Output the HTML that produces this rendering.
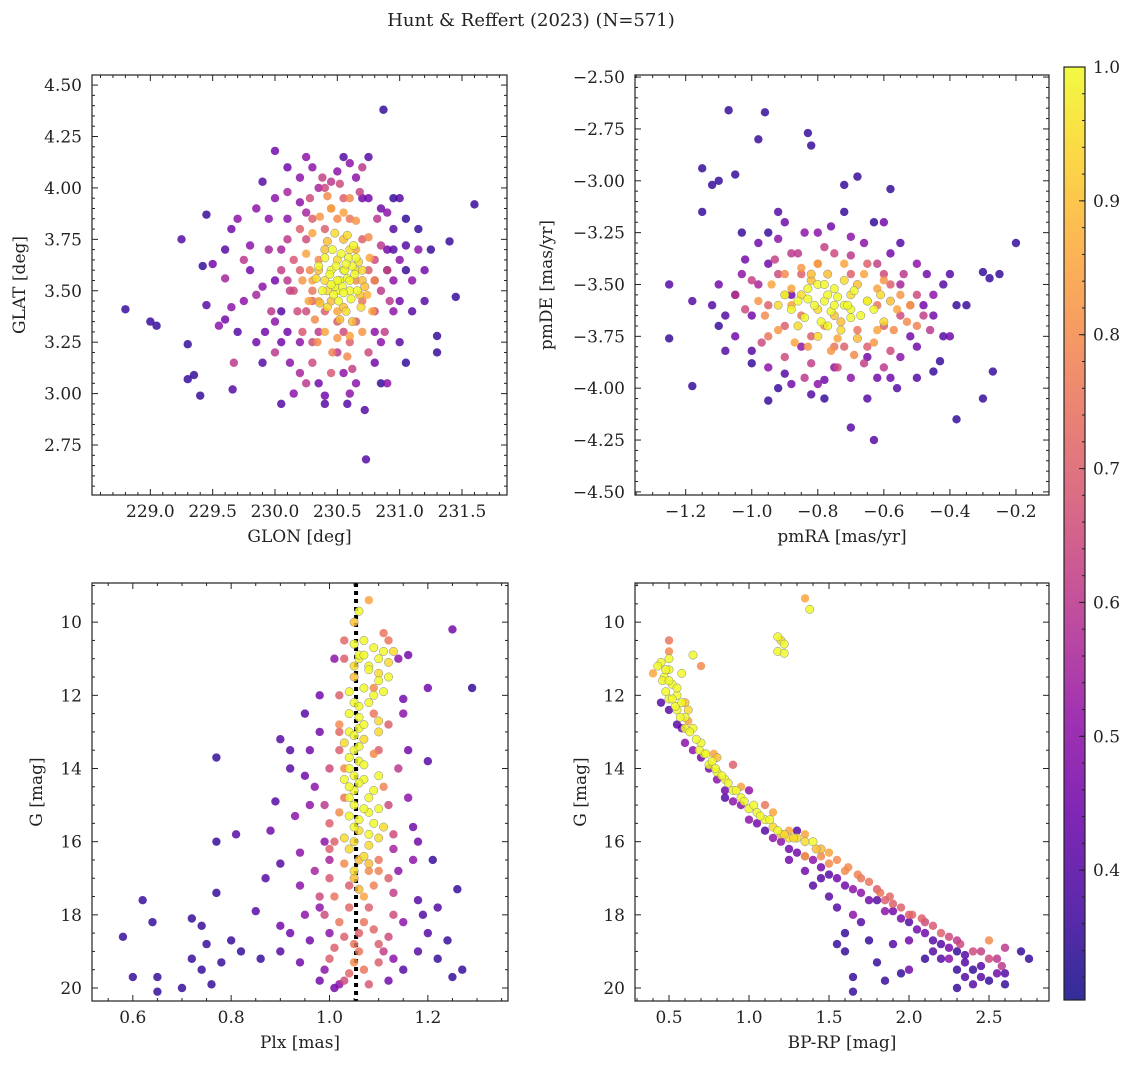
<!DOCTYPE html>
<html><head><meta charset="utf-8">
<style>
body{margin:0;background:#fff;}
svg text{font-family:"DejaVu Serif","Liberation Serif",serif;fill:#222;}
</style></head>
<body>
<svg id="fig" width="1136" height="1068" viewBox="0 0 1136 1068" xmlns="http://www.w3.org/2000/svg">
<text x="531" y="26" font-size="18" text-anchor="middle">Hunt &amp; Reffert (2023) (N=571)</text>
</svg>
<script>
// Panel 1: GLON vs GLAT
const glonVals=[228.8,229.0,229.05,229.25,229.3,229.35,229.3,229.4,229.42,229.45,229.45,229.5,229.55,229.6,229.6,229.65,229.65,229.67,229.66,229.7,229.75,229.8,229.85,229.9,229.92,229.95,229.97,230.0,230.0,230.05,230.05,230.1,230.1,230.15,230.2,230.2,230.2,230.25,230.3,230.35,230.35,230.4,230.45,230.5,230.55,230.55,230.6,230.65,230.7,230.72,230.73,230.75,230.8,230.85,230.87,230.9,230.95,231.0,231.0,231.05,231.05,231.1,231.15,231.2,231.25,231.3,231.3,231.4,231.45,231.6,230.8,230.9,230.95,230.0,230.05,230.1,
230.2,230.25,230.3,230.3,230.35,230.4,230.4,230.45,230.5,230.5,230.55,230.6,230.65,230.7,230.7,230.75,230.8,230.8,230.85,230.25,230.15,230.3,230.6,230.4,230.55,230.65,
230.4,230.45,230.5,230.55,230.6,230.5,230.6,230.45,230.55,230.65,230.7,230.35,230.4,230.52,230.58,230.48,230.62,230.42,230.55,230.3,230.68,230.5,230.65,230.35];
const glatVals=[3.41,3.35,3.33,3.75,3.07,3.09,3.24,2.99,3.62,3.87,3.43,3.63,3.33,3.36,3.56,3.8,3.42,3.15,3.02,3.85,3.65,3.72,3.48,4.03,3.3,3.85,3.4,4.18,3.2,3.7,2.95,4.1,3.55,3.0,3.93,3.25,3.1,4.15,3.45,3.3,4.0,2.99,4.03,3.2,3.1,4.15,3.0,4.05,3.95,2.92,2.68,4.15,3.3,3.9,4.38,3.05,3.4,3.65,3.95,3.85,3.15,3.55,3.7,3.6,3.7,3.28,3.2,3.74,3.47,3.92,3.55,3.7,3.8,3.55,3.4,3.85,
3.6,3.75,3.85,3.5,3.65,3.8,3.4,3.9,3.35,3.85,3.3,3.85,3.35,3.75,3.45,3.6,3.65,3.4,3.5,3.4,3.5,3.25,3.25,4.0,3.95,3.55,
3.55,3.6,3.5,3.6,3.5,3.65,3.7,3.45,3.42,3.6,3.55,3.6,3.7,3.55,3.56,3.52,3.62,3.5,3.75,3.55,3.48,3.4,3.7,3.45];
const probA=[.35,.35,.35,.4,.35,.35,.35,.35,.35,.35,.4,.45,.5,.45,.55,.45,.5,.6,.4,.5,.6,.5,.55,.4,.45,.5,.6,.45,.6,.55,.4,.45,.6,.5,.5,.5,.55,.5,.7,.6,.55,.45,.6,.6,.5,.4,.5,.5,.45,.4,.4,.4,.5,.45,.35,.5,.5,.5,.4,.35,.35,.5,.5,.45,.35,.35,.35,.35,.35,.35,.5,.45,.4,.45,.4,.5,
.7,.65,.7,.75,.8,.7,.7,.75,.7,.8,.65,.75,.7,.7,.75,.7,.65,.65,.6,.65,.65,.65,.7,.65,.7,.8,
.95,1,1,1,1,.95,.95,.9,.9,.95,.9,.9,.9,1,1,1,1,.95,.9,.85,.9,.85,.85,.85];
const panel1Extra=[[230.35,3.62,1],[230.38,3.5,1],[230.4,3.66,1],[230.42,3.42,.95],[230.44,3.58,1],[230.46,3.7,1],[230.47,3.48,1],[230.49,3.62,1],[230.5,3.55,1],[230.51,3.45,1],[230.53,3.68,1],[230.54,3.52,1],[230.56,3.6,1],[230.57,3.4,.95],[230.59,3.66,1],[230.6,3.55,1],[230.61,3.46,1],[230.63,3.72,1],[230.64,3.58,1],[230.66,3.5,1],[230.67,3.64,.95],[230.69,3.42,.95],[230.7,3.6,.95],[230.72,3.52,.9],[230.58,3.77,.95],[230.48,3.78,.95],[230.52,3.36,.9],[230.62,3.35,.9],[230.42,3.74,.9],[230.36,3.44,.9],[230.33,3.56,.95],[230.55,3.49,1],[230.45,3.53,1],[230.65,3.66,1],[230.57,3.63,1],
[230.22,3.55,.82],[230.25,3.68,.85],[230.27,3.45,.85],[230.3,3.78,.85],[230.32,3.36,.8],[230.36,3.86,.82],[230.4,3.3,.85],[230.45,3.9,.85],[230.5,3.27,.82],[230.55,3.88,.85],[230.6,3.28,.85],[230.65,3.84,.82],[230.7,3.3,.82],[230.75,3.76,.8],[230.78,3.4,.85],[230.8,3.55,.82],[230.76,3.66,.85],[230.74,3.48,.88],[230.28,3.6,.8],[230.46,3.2,.78],[230.58,3.18,.8],[230.42,3.96,.8],[230.6,3.95,.8],[230.34,3.25,.8],
[230.15,3.65,.68],[230.18,3.4,.65],[230.2,3.8,.7],[230.22,3.3,.68],[230.28,3.95,.65],[230.3,3.15,.65],[230.38,4.05,.62],[230.45,3.1,.68],[230.52,4.02,.65],[230.62,3.12,.62],[230.68,3.98,.62],[230.75,3.2,.65],[230.82,3.85,.6],[230.88,3.3,.62],[230.9,3.6,.65],[230.85,3.72,.6],[230.12,3.5,.62],[230.1,3.75,.6],[230.92,3.45,.6],[230.05,3.6,.62],[230.25,3.05,.6],[230.7,4.1,.6],
[229.75,3.45,.5],[229.8,3.6,.45],[229.85,3.9,.5],[229.9,3.52,.5],[229.95,3.7,.55],[230.0,3.95,.5],[230.0,3.35,.5],[230.05,3.25,.45],[230.1,3.98,.55],[230.12,3.15,.5],[230.2,4.05,.5],[230.25,3.88,.55],[230.3,4.1,.5],[230.5,4.08,.5],[230.6,4.12,.5],[230.65,3.05,.5],[230.8,3.15,.45],[230.85,3.25,.5],[230.9,3.88,.5],[230.95,3.55,.5],[231.0,3.45,.45],[231.05,3.72,.4],[231.1,3.4,.4],[231.15,3.8,.35],[231.2,3.45,.4],[231.0,3.25,.4],[230.95,3.95,.35],[230.85,3.05,.35],[230.4,2.95,.4],[230.35,3.05,.45],[230.58,2.95,.4],[229.85,3.25,.45],[229.7,3.3,.4],[229.6,3.7,.4],[229.9,3.15,.4],[230.75,3.95,.45],[230.9,3.6,.35],[231.05,3.6,.35],[230.95,3.7,.4],[230.1,3.3,.45]];

// Panel 2: pmRA vs pmDE
const pmraVals=[-1.25,-1.25,-1.18,-1.18,-1.15,-1.15,-1.12,-1.1,-1.07,-1.05,-1.1,-1.08,-1.05,-1.03,-1.0,-1.0,-0.98,-0.96,-0.95,-0.95,-0.92,-0.9,-0.9,-0.88,-0.85,-0.83,-0.82,-0.82,-0.8,-0.78,-0.75,-0.72,-0.7,-0.7,-0.68,-0.65,-0.65,-0.63,-0.6,-0.58,-0.58,-0.55,-0.52,-0.5,-0.48,-0.45,-0.43,-0.4,-0.38,-0.3,-0.3,-0.28,-0.27,-0.25,-0.2,-0.35,-1.03,-1.0,-0.98,-0.42,-0.55,-0.5,
-0.95,-0.92,-0.9,-0.88,-0.85,-0.85,-0.82,-0.8,-0.78,-0.75,-0.72,-0.7,-0.68,-0.65,-0.62,-0.6,-0.58,-0.55,-0.65,-0.95,-0.9,-0.75,-0.6,-0.52,
-0.85,-0.8,-0.78,-0.75,-0.72,-0.7,-0.8,-0.75,-0.82,-0.68,-0.77,-0.73,-0.65,-0.88,-0.77,-0.7,-0.83,-0.62];
const pmdeVals=[-3.76,-3.5,-3.99,-3.58,-3.15,-2.94,-3.02,-3.0,-2.66,-2.97,-3.7,-3.82,-3.55,-3.25,-3.82,-3.88,-2.8,-2.67,-3.4,-4.06,-3.15,-3.2,-3.93,-3.55,-3.8,-2.77,-2.83,-4.03,-3.25,-3.96,-3.9,-3.02,-4.19,-3.27,-2.98,-4.05,-3.85,-4.25,-3.2,-3.04,-3.95,-3.3,-3.75,-3.95,-3.6,-3.55,-3.87,-3.45,-4.15,-3.44,-4.05,-3.47,-3.92,-3.45,-3.3,-3.6,-3.45,-3.65,-3.5,-3.75,-3.5,-3.4,
-3.6,-3.45,-3.7,-3.35,-3.65,-3.45,-3.75,-3.4,-3.7,-3.35,-3.8,-3.45,-3.72,-3.4,-3.6,-3.7,-3.5,-3.65,-3.8,-3.75,-3.55,-3.8,-3.45,-3.6,
-3.55,-3.5,-3.58,-3.52,-3.6,-3.55,-3.62,-3.65,-3.48,-3.5,-3.45,-3.68,-3.58,-3.6,-3.55,-3.62,-3.57,-3.52];
const probB=[.35,.4,.35,.4,.35,.35,.35,.35,.35,.35,.35,.4,.4,.35,.4,.35,.35,.35,.45,.35,.4,.45,.4,.45,.5,.35,.35,.4,.5,.45,.5,.35,.4,.5,.35,.4,.45,.4,.45,.35,.45,.4,.45,.4,.45,.5,.35,.4,.35,.35,.35,.35,.35,.35,.35,.35,.5,.45,.55,.4,.55,.5,
.7,.65,.7,.6,.75,.7,.7,.7,.8,.65,.7,.7,.75,.7,.75,.7,.7,.65,.7,.75,.8,.75,.65,.6,
.95,1,1,1,1,.95,.95,.9,.9,.9,.9,.9,.9,.85,1,1,1,.85];
const panel2Extra=[[-0.92,-3.6,.95],[-0.9,-3.55,1],[-0.88,-3.62,1],[-0.86,-3.58,1],[-0.84,-3.66,1],[-0.83,-3.52,1],[-0.81,-3.6,1],[-0.79,-3.68,1],[-0.78,-3.5,1],[-0.76,-3.63,1],[-0.74,-3.56,1],[-0.73,-3.72,.95],[-0.71,-3.6,1],[-0.69,-3.53,1],[-0.67,-3.65,1],[-0.65,-3.58,1],[-0.63,-3.62,1],[-0.61,-3.55,.95],[-0.6,-3.68,.95],[-0.58,-3.58,.9],[-0.8,-3.75,.95],[-0.86,-3.7,.95],[-0.72,-3.48,.95],[-0.82,-3.45,.9],[-0.68,-3.76,.9],[-0.77,-3.7,1],[-0.7,-3.66,1],[-0.75,-3.6,1],
[-0.98,-3.58,.82],[-0.96,-3.65,.8],[-0.94,-3.5,.85],[-0.92,-3.72,.82],[-0.9,-3.45,.8],[-0.87,-3.78,.85],[-0.85,-3.42,.82],[-0.83,-3.8,.82],[-0.8,-3.4,.85],[-0.76,-3.82,.82],[-0.72,-3.4,.85],[-0.69,-3.84,.8],[-0.66,-3.45,.85],[-0.63,-3.78,.82],[-0.6,-3.48,.82],[-0.57,-3.72,.8],[-0.55,-3.55,.82],[-0.53,-3.68,.8],[-0.52,-3.6,.85],[-0.5,-3.7,.78],[-0.56,-3.62,.85],[-0.62,-3.72,.85],[-0.88,-3.52,.85],[-0.74,-3.76,.85],
[-1.02,-3.62,.65],[-1.0,-3.48,.62],[-0.97,-3.78,.65],[-0.93,-3.38,.62],[-0.9,-3.85,.65],[-0.86,-3.35,.6],[-0.82,-3.88,.62],[-0.78,-3.32,.62],[-0.74,-3.9,.65],[-0.7,-3.36,.6],[-0.66,-3.88,.62],[-0.62,-3.4,.62],[-0.58,-3.82,.65],[-0.54,-3.45,.6],[-0.5,-3.55,.65],[-0.48,-3.65,.62],[-0.46,-3.72,.6],[-0.6,-3.9,.6],[-0.84,-3.95,.6],[-1.05,-3.55,.6],
[-1.1,-3.5,.45],[-1.08,-3.65,.4],[-1.05,-3.75,.45],[-1.02,-3.38,.45],[-0.98,-3.3,.45],[-0.95,-3.9,.5],[-0.92,-3.28,.5],[-0.88,-3.98,.45],[-0.84,-3.25,.5],[-0.8,-3.98,.5],[-0.76,-3.22,.45],[-0.7,-3.95,.5],[-0.66,-3.3,.5],[-0.62,-3.95,.45],[-0.58,-3.35,.45],[-0.55,-3.85,.5],[-0.5,-3.8,.45],[-0.45,-3.65,.45],[-0.42,-3.5,.4],[-0.4,-3.75,.45],[-0.47,-3.45,.45],[-1.12,-3.6,.4],[-0.95,-3.25,.35],[-0.78,-4.05,.35],[-0.72,-3.15,.35],[-0.63,-3.2,.35],[-0.56,-4.0,.4],[-0.45,-3.92,.35],[-0.38,-3.6,.35],[-0.92,-4.0,.35]];

// Panel 3: Plx vs G
const plxVals=[1.08,1.06,1.07,1.09,1.1,1.08,1.1,1.05,1.07,1.05,1.06,1.04,1.07,1.05,1.06,1.04,1.07,1.1,1.05,1.08,1.05,1.04,1.09,1.06,1.05,1.08,1.1,1.06,1.05,1.07,1.04,1.06,1.06,1.11,1.12,1.05,
1.02,1.09,1.1,1.03,1.1,1.0,1.04,1.08,1.02,1.06,1.1,1.0,1.07,1.03,1.12,1.0,1.13,1.02,1.11,1.03,1.12,1.14,0.98,1.13,1.05,1.08,1.0,1.05,
0.58,0.6,0.62,0.64,0.65,0.65,0.7,0.72,0.72,0.74,0.74,0.75,0.76,0.77,0.77,0.77,0.78,0.8,0.81,0.82,0.85,0.86,0.88,0.9,0.9,0.9,0.92,0.92,0.93,0.94,0.94,0.95,0.96,0.97,0.97,0.98,0.98,1.0,1.01,1.01,1.14,1.15,1.16,1.16,1.17,1.18,1.18,1.2,1.2,1.2,1.22,1.22,1.24,1.25,1.25,1.26,1.27,1.29,1.15,1.12,0.89,0.95,1.17,1.13,0.99];
const gPlxVals=[9.4,9.7,10.5,10.7,11.0,11.2,11.4,11.5,11.8,12.2,12.6,13.0,13.2,13.5,13.8,14.0,14.3,14.2,14.6,14.8,15.0,15.3,15.5,15.7,16.0,15.2,15.9,16.5,17.0,17.5,14.5,12.9,11.0,10.8,11.1,10.0,
12.0,12.5,13.5,14.8,16.5,16.2,17.2,17.8,18.2,18.5,18.8,19.2,19.5,19.8,17.0,15.5,15.8,13.5,10.3,11.0,12.8,14.0,17.5,18.0,18.8,16.8,14.0,19.3,
18.6,19.7,17.6,18.2,19.7,20.1,20.0,19.2,18.1,19.5,18.3,18.8,19.9,13.7,16.0,17.4,19.3,18.7,15.8,19.0,17.9,19.2,15.7,19.0,18.3,13.2,13.5,14.0,15.3,16.3,17.2,12.5,13.5,14.5,16.8,12.0,19.8,18.5,11.0,20.0,11.0,12.1,10.9,14.8,16.5,17.6,19.0,11.8,13.8,18.5,19.2,17.8,18.7,10.2,19.7,17.3,19.5,11.8,19.5,19.8,14.9,18.0,15.6,16.2,16.0];
const probC=[.85,1,1,1,1,1,.95,.9,1,1,1,1,.95,1,1,1,1,1,1,1,1,1,1,.95,.95,1,.95,.9,.9,.85,1,1,1,1,.95,.9,
.7,.75,.7,.75,.75,.7,.7,.7,.75,.7,.7,.7,.75,.65,.7,.7,.65,.7,.75,.7,.7,.6,.65,.65,.75,.8,.65,.8,
.35,.35,.35,.35,.35,.35,.35,.35,.35,.35,.35,.35,.35,.35,.35,.35,.35,.35,.4,.35,.4,.35,.45,.4,.45,.4,.4,.4,.5,.5,.5,.4,.45,.5,.55,.45,.45,.5,.5,.45,.5,.45,.45,.5,.5,.4,.4,.45,.4,.4,.35,.4,.35,.45,.35,.35,.35,.35,.4,.45,.4,.5,.45,.55,.5];
const panel3Extra=[[1.05,10.6,1],[1.06,10.9,1],[1.08,11.3,1],[1.1,11.6,1],[1.09,12.0,1],[1.06,12.3,1],[1.04,12.5,1],[1.07,12.8,1],[1.05,13.1,1],[1.06,13.4,1],[1.04,13.7,1],[1.07,13.9,1],[1.05,14.2,1],[1.06,14.4,1],[1.04,14.8,1],[1.07,15.1,1],[1.06,15.4,1],[1.05,15.6,1],[1.08,15.8,1],[1.04,16.2,.95],[1.07,16.4,.95],[1.05,16.8,.95],[1.08,16.1,.95],[1.09,14.6,1],[1.1,15.1,1],[1.11,15.6,.95],[1.1,13.0,.95],[1.03,13.3,.95],[1.03,15.9,.95],[1.08,12.2,1],[1.1,12.7,.95],[1.12,11.5,1],[1.13,10.8,.95],[1.11,11.9,1],[1.07,10.9,1],[1.05,11.2,.95],[1.04,11.9,1],[1.06,17.3,.9],[1.08,16.6,.9],[1.03,14.3,1],
[1.02,12.8,.8],[1.09,13.6,.8],[1.03,14.0,.8],[1.11,14.5,.78],[1.02,15.2,.8],[1.1,16.8,.78],[1.03,16.6,.8],[1.01,17.5,.75],[1.09,17.2,.78],[1.04,17.8,.72],[1.07,18.2,.75],[1.03,18.6,.7],[1.09,18.4,.72],[1.01,18.9,.7],[1.06,19.0,.75],[1.1,19.3,.7],[1.04,19.6,.72],[1.08,19.9,.68],[1.12,18.6,.65],[0.99,18.0,.65],[1.0,17.0,.68],[1.13,17.4,.62],[1.11,19.0,.62],[1.12,15.0,.65],[1.01,16.0,.7],[1.09,11.8,.8],[1.12,10.5,.75],[1.03,10.5,.72],[1.02,13.0,.72],[0.99,15.0,.6],
[0.96,15.0,.5],[0.98,17.8,.5],[0.96,18.7,.45],[0.99,19.5,.5],[1.0,16.5,.55],[0.98,13.0,.45],[1.13,19.2,.5],[1.15,18.2,.5],[1.14,16.8,.5],[1.16,13.5,.45],[1.15,12.5,.5],[1.02,19.9,.5],[0.94,19.3,.45],[0.92,18.5,.45],[0.9,16.6,.4],[1.18,16.0,.45],[1.19,18.0,.4],[1.21,16.5,.35],[0.87,17.0,.4],[0.95,14.2,.45]];

// Panel 4: BP-RP vs G
const bprpVals=[1.35,1.38,1.18,1.2,1.22,1.18,1.22,
0.4,0.45,0.47,0.5,0.5,0.52,0.55,0.5,0.55,0.6,0.58,0.65,0.5,0.6,0.65,0.7,0.72,0.75,0.8,0.85,0.9,0.95,1.0,1.05,1.1,1.15,1.2,1.3,1.4,1.45,1.35,1.5,1.6,1.7,1.8,1.85,1.9,2.0,2.1,2.2,2.3,2.4,2.5,2.55,0.7,0.9,1.1,0.8,1.25,
0.45,0.55,0.6,0.7,0.8,0.9,1.0,1.1,1.2,1.3,1.4,1.5,1.6,1.7,1.8,1.9,2.0,2.1,2.2,2.3,2.35,2.35,2.3,2.4,2.45,2.5,2.6,2.7,2.75,2.6,1.55,1.6,1.65,1.65,1.8,1.75,1.85,1.95,2.0,1.55,1.65,1.4,2.15,2.25,1.3,1.0,0.85];
const gCmdVals=[9.35,9.65,10.4,10.5,10.6,10.8,10.85,
11.4,11.1,11.5,11.0,11.3,11.7,12.0,12.1,12.4,12.6,11.4,10.9,10.5,12.2,12.9,13.3,13.6,13.9,14.1,14.3,14.6,14.8,15.1,15.2,15.4,15.6,15.8,15.9,16.0,16.2,16.4,16.6,16.8,17.0,17.3,17.6,17.7,18.0,18.2,18.5,18.7,19.0,18.7,19.2,11.2,13.9,15.0,13.7,15.9,
12.2,12.8,13.3,13.7,14.3,14.9,15.4,15.7,16.0,16.3,16.5,16.9,17.2,17.4,17.6,17.9,18.2,18.5,18.8,19.0,19.3,19.7,20.0,19.5,19.7,19.8,19.6,19.0,19.2,18.9,18.8,19.0,19.7,20.1,19.3,18.7,19.8,19.6,19.5,17.8,18.0,17.2,19.0,19.2,15.7,14.6,14.8];
const probD=[.85,1,1,.95,1,1,1,
.85,1,1,1,1,1,1,1,1,1,1,1,.75,.9,1,1,1,1,1,1,1,1,1,1,1,.95,.9,.95,1,.9,.85,.8,.8,.75,.7,.7,.7,.7,.65,.7,.6,.65,.8,.6,.8,.7,.75,.9,.95,
.4,.4,.5,.45,.5,.5,.5,.4,.5,.45,.5,.4,.45,.5,.4,.45,.4,.45,.4,.35,.4,.4,.35,.35,.4,.35,.4,.35,.35,.6,.35,.35,.35,.35,.35,.35,.35,.35,.45,.4,.5,.4,.4,.5,.4,.5,.4];
const panel4Extra=[[0.43,11.2,1],[0.46,11.6,1],[0.48,11.9,1],[0.52,12.1,1],[0.54,12.3,1],[0.57,12.6,1],[0.6,12.9,1],[0.63,13.0,1],[0.67,13.2,1],[0.69,13.5,1],[0.73,13.6,1],[0.77,13.8,1],[0.79,14.0,1],[0.83,14.2,1],[0.87,14.4,1],[0.92,14.6,1],[0.97,14.9,1],[1.03,15.0,1],[1.07,15.3,1],[1.13,15.4,1],[1.18,15.7,1],[1.22,15.8,.95],[1.28,15.9,.95],[1.35,16.0,.95],[1.42,16.2,.9],[0.5,11.6,1],[0.48,11.3,1],[0.55,11.8,1],[0.62,12.4,.95],[0.58,12.2,1],
[1.5,16.3,.85],[1.55,16.5,.8],[1.62,16.7,.8],[1.68,16.9,.78],[1.75,17.1,.75],[1.82,17.4,.75],[1.88,17.5,.72],[1.95,17.8,.7],[2.02,18.0,.72],[2.08,18.1,.7],[2.15,18.3,.68],[2.25,18.6,.65],[2.32,18.8,.65],[2.45,19.0,.62],[2.5,19.2,.65],[2.58,19.4,.6],[1.45,16.4,.8],[1.25,15.7,.85],[1.15,15.2,.85],[0.95,14.5,.85],[0.78,13.6,.85],[0.62,12.7,.85],[0.5,10.8,.8],[1.35,15.8,.85],
[0.5,12.4,.4],[0.58,12.9,.45],[0.65,13.5,.5],[0.75,14.0,.45],[0.85,14.6,.45],[0.95,15.0,.5],[1.05,15.5,.45],[1.15,15.9,.5],[1.25,16.2,.45],[1.35,16.4,.5],[1.45,16.7,.45],[1.55,17.0,.45],[1.65,17.3,.5],[1.75,17.6,.45],[1.85,17.9,.5],[1.95,18.1,.45],[2.05,18.4,.45],[2.15,18.7,.4],[2.25,18.9,.45],[2.35,19.1,.4],[2.45,19.4,.4],[2.55,19.6,.45],[2.3,19.5,.35],[2.4,19.9,.4],[2.2,19.2,.4],[1.7,18.2,.4],[1.5,17.5,.4],[1.6,18.5,.35],[1.9,18.8,.4],[1.35,16.8,.45],[1.25,16.5,.45],[2.0,18.7,.45],[2.1,19.2,.35],[2.6,19.9,.35],[1.45,17.0,.4]];

const cbTicks=[0.4,0.5,0.6,0.7,0.8,0.9,1.0];
const VMIN=0.303,VMAX=1.0;

const NS="http://www.w3.org/2000/svg";
const svg=document.getElementById('fig');
function mk(tag,attrs,parent){const e=document.createElementNS(NS,tag);for(const k in attrs)e.setAttribute(k,attrs[k]);(parent||svg).appendChild(e);return e;}
const stops=[[13,8,135],[65,4,157],[106,0,168],[143,13,164],[177,42,144],[204,71,120],[225,100,98],[242,132,75],[252,166,54],[252,206,37],[240,249,33]];
function plasma(t){t=Math.max(0,Math.min(1,t))*10;const i=Math.min(9,Math.floor(t)),f=t-i;const a=stops[i],b=stops[i+1];return 'rgb('+a.map((v,k)=>Math.round(v+(b[k]-v)*f)).join(',')+')';}
function cnorm(p){return (p-VMIN)/(VMAX-VMIN);}
function fmt(v,d){return (v<0?'\u2212':'')+Math.abs(v).toFixed(d);}
function withExtra(xs,ys,ps,extra){return {xs:xs.concat(extra.map(e=>e[0])),ys:ys.concat(extra.map(e=>e[1])),ps:ps.concat(extra.map(e=>e[2]))};}

function panel(o,d){
  const sx=v=>o.x0+(v-o.xmin)/(o.xmax-o.xmin)*(o.x1-o.x0);
  const sy=o.yrev? v=>o.y0+(v-o.ymin)/(o.ymax-o.ymin)*(o.y1-o.y0) : v=>o.y1-(v-o.ymin)/(o.ymax-o.ymin)*(o.y1-o.y0);
  const g=mk('g',{});
  
  
  if(o.vline!==undefined){
    const l=mk('line',{x1:sx(o.vline),x2:sx(o.vline),y1:o.y0,y2:o.y1,stroke:'#000','stroke-width':4,'stroke-dasharray':'4,4'},g);
    
    
  }
  const idx=d.xs.map((_,i)=>i).sort((a,b)=>d.ps[a]-d.ps[b]);
  idx.forEach(i=>{
    const c=mk('circle',{cx:sx(d.xs[i]),cy:sy(d.ys[i]),r:4.2,fill:plasma(cnorm(d.ps[i])),'fill-opacity':0.82,stroke:d.ps[i]>=0.9?'#888':'none','stroke-width':0.5},g);
    
    
  });
  mk('rect',{x:o.x0,y:o.y0,width:o.x1-o.x0,height:o.y1-o.y0,fill:'none',stroke:'#222','stroke-width':1.2},g);
  const eps=1e-6;
  for(let k=Math.ceil(o.xmin/o.xminor-eps);k*o.xminor<=o.xmax+eps;k++){
    const v=k*o.xminor;const X=sx(v);const major=Math.abs(v/o.xmaj-Math.round(v/o.xmaj))<1e-4;const L=major?6:3;
    mk('line',{x1:X,x2:X,y1:o.y1,y2:o.y1-L,stroke:'#222','stroke-width':1},g);
    mk('line',{x1:X,x2:X,y1:o.y0,y2:o.y0+L,stroke:'#222','stroke-width':1},g);
    if(major){const t=mk('text',{x:X,y:o.y1+22,'font-size':17,'text-anchor':'middle'},g);t.textContent=fmt(v,o.xd);
      }
  }
  for(let k=Math.ceil(o.ymin/o.yminor-eps);k*o.yminor<=o.ymax+eps;k++){
    const v=k*o.yminor;const Y=sy(v);const major=Math.abs(v/o.ymaj-Math.round(v/o.ymaj))<1e-4;const L=major?6:3;
    mk('line',{x1:o.x0,x2:o.x0+L,y1:Y,y2:Y,stroke:'#222','stroke-width':1},g);
    mk('line',{x1:o.x1,x2:o.x1-L,y1:Y,y2:Y,stroke:'#222','stroke-width':1},g);
    if(major){const t=mk('text',{x:o.x0-10,y:Y+6,'font-size':17,'text-anchor':'end'},g);t.textContent=fmt(v,o.yd);
      }
  }
  const xt=mk('text',{x:(o.x0+o.x1)/2,y:o.y1+47,'font-size':17,'text-anchor':'middle'},g);xt.textContent=o.xlabel;
  
  const cyy=(o.y0+o.y1)/2;
  const yt=mk('text',{x:o.ylx,y:cyy,'font-size':17,'text-anchor':'middle',transform:'rotate(-90 '+o.ylx+' '+cyy+')'},g);yt.textContent=o.ylabel;
  
}

panel({name:'glon-glat-panel',x0:92,x1:507,y0:75,y1:495,xmin:228.532,xmax:231.861,ymin:2.507,ymax:4.549,xmaj:0.5,xminor:0.1,ymaj:0.25,yminor:0.05,xd:1,yd:2,xlabel:'GLON [deg]',ylabel:'GLAT [deg]',ylx:25},withExtra(glonVals,glatVals,probA,panel1Extra));
panel({name:'proper-motion-panel',x0:635,x1:1049,y0:75,y1:495,xmin:-1.3535,xmax:-0.100,ymin:-4.515,ymax:-2.49,xmaj:0.2,xminor:0.05,ymaj:0.25,yminor:0.05,xd:1,yd:2,xlabel:'pmRA [mas/yr]',ylabel:'pmDE [mas/yr]',ylx:552},withExtra(pmraVals,pmdeVals,probB,panel2Extra));
panel({name:'parallax-magnitude-panel',x0:92,x1:508,y0:583,y1:1001,xmin:0.517,xmax:1.363,ymin:8.93,ymax:20.355,yrev:true,xmaj:0.2,xminor:0.05,ymaj:2,yminor:0.5,xd:1,yd:0,xlabel:'Plx [mas]',ylabel:'G [mag]',ylx:42,vline:1.054},withExtra(plxVals,gPlxVals,probC,panel3Extra));
panel({name:'cmd-panel',x0:635,x1:1049,y0:583,y1:1001,xmin:0.2875,xmax:2.875,ymin:8.93,ymax:20.355,yrev:true,xmaj:0.5,xminor:0.1,ymaj:2,yminor:0.5,xd:1,yd:0,xlabel:'BP-RP [mag]',ylabel:'G [mag]',ylx:586},withExtra(bprpVals,gCmdVals,probD,panel4Extra));

// colorbar
const cb=mk('g',{});


const defs=mk('defs',{},cb);
const lg=mk('linearGradient',{id:'cbg',x1:0,y1:1,x2:0,y2:0},defs);
for(let i=0;i<=20;i++)mk('stop',{offset:(i/20),'stop-color':plasma(i/20),'stop-opacity':0.85},lg);
const CB={x:1064,w:21,y0:67,y1:1000};
mk('rect',{x:CB.x,y:CB.y0,width:CB.w,height:CB.y1-CB.y0,fill:'url(#cbg)',stroke:'#222','stroke-width':1.2},cb);
const cy=v=>CB.y1-(v-VMIN)/(VMAX-VMIN)*(CB.y1-CB.y0);
for(let k=16;k<=50;k++){const Y=cy(k*0.02);mk('line',{x1:CB.x+CB.w,x2:CB.x+CB.w-3,y1:Y,y2:Y,stroke:'#222'},cb);}
cbTicks.forEach(v=>{const Y=cy(v);mk('line',{x1:CB.x+CB.w,x2:CB.x+CB.w-6,y1:Y,y2:Y,stroke:'#222'},cb);
  const t=mk('text',{x:CB.x+CB.w+8,y:Y+6,'font-size':17},cb);t.textContent=v.toFixed(1);
  });
</script>
</body></html>
